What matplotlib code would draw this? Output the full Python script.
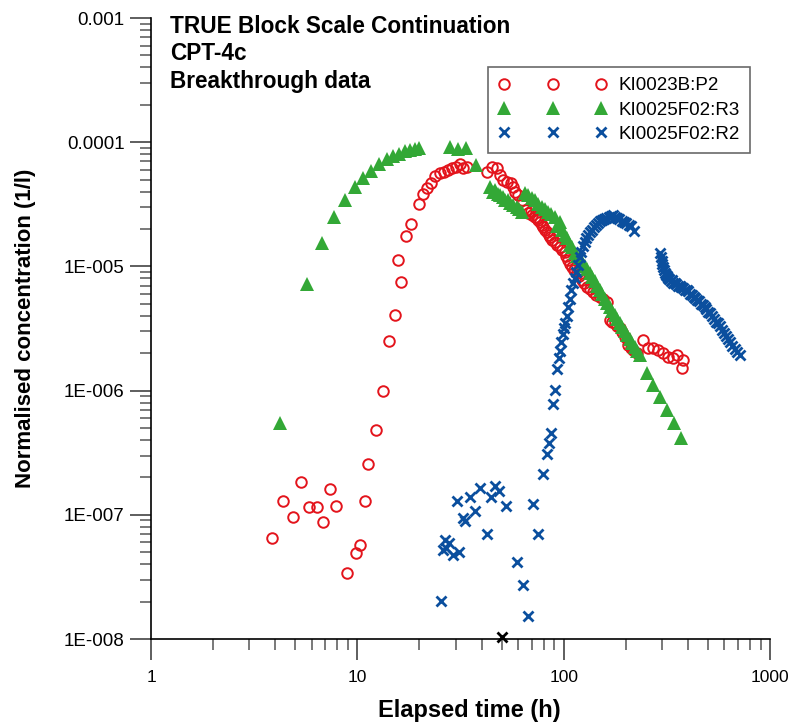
import matplotlib
matplotlib.use("Agg")
import matplotlib.pyplot as plt
from matplotlib.ticker import FixedLocator, FixedFormatter, LogLocator, NullFormatter

plt.rcParams['font.family'] = ['Liberation Sans', 'DejaVu Sans']

# ---- KI0023B:P2 (red circles) ----
p2_time = [3.87, 4.36, 4.86, 5.35, 5.85, 6.39, 6.84, 7.34, 7.88, 8.87, 9.85, 10.3, 10.9, 11.3,
           12.3, 13.3, 14.3, 15.3, 16.3, 15.8, 17.3, 18.2, 19.8, 20.7, 21.7, 22.7, 23.8, 25.1,
           26.3, 27.6, 28.8, 30.0, 31.4, 32.4, 33.9,
           42.3, 44.7, 47.3, 49.1, 50.9, 53.2, 55.5, 56.9, 58.4, 60.2, 62.5, 65.6, 67.3, 69.1,
           70.5, 72.5, 73.9, 75.5, 76.7, 78.2, 79.0, 81.0, 82.7, 84.5, 85.8, 88.0, 90.6, 93.0,
           95.9, 98.5, 101.4, 103.0, 105.2, 107.0, 109.2, 112.0, 115.5, 118.5, 122.1, 125.5,
           129.1, 134.0, 139.0, 144.0, 149.7, 155.0, 161.4,
           167.4, 172.0, 177.1, 182.0, 187.1, 192.0, 198.0, 205.4, 211.0, 217.3, 225.6,
           242.7, 256.6, 271.4, 287.0, 303.5, 320.9, 339.4, 352.4, 372.5, 379.5]
p2_conc = [6.47e-8, 1.30e-7, 9.55e-8, 1.84e-7, 1.15e-7, 1.15e-7, 8.8e-8, 1.61e-7, 1.18e-7, 3.40e-8,
           4.9e-8, 5.68e-8, 1.30e-7, 2.58e-7,
           4.84e-7, 9.98e-7, 2.52e-6, 4.08e-6, 7.48e-6, 1.13e-5, 1.76e-5, 2.21e-5, 3.20e-5, 3.83e-5,
           4.26e-5, 4.72e-5, 5.35e-5, 5.62e-5, 5.8e-5, 5.97e-5, 6.2e-5, 6.3e-5, 6.68e-5, 6.2e-5, 6.3e-5,
           5.79e-5, 6.28e-5, 6.17e-5, 5.45e-5, 4.97e-5, 4.75e-5, 4.72e-5, 4.39e-5, 3.99e-5, 3.76e-5,
           3.43e-5, 2.85e-5, 2.68e-5, 2.78e-5, 2.6e-5, 2.5e-5, 2.44e-5, 2.36e-5, 2.29e-5, 2.16e-5,
           2.09e-5, 1.98e-5, 1.88e-5, 1.80e-5, 1.73e-5, 1.62e-5, 1.58e-5, 1.50e-5, 1.44e-5, 1.36e-5,
           1.31e-5, 1.22e-5, 1.13e-5, 1.05e-5, 9.95e-6, 9.4e-6, 8.8e-6, 8.3e-6, 7.78e-6, 7.3e-6,
           6.87e-6, 6.6e-6, 6.26e-6, 5.9e-6, 5.70e-6, 5.45e-6, 5.20e-6,
           3.70e-6, 3.6e-6, 3.48e-6, 3.3e-6, 3.17e-6, 2.95e-6, 2.72e-6, 2.33e-6, 2.2e-6, 2.12e-6, 2.00e-6,
           2.55e-6, 2.19e-6, 2.19e-6, 2.12e-6, 2.00e-6, 1.88e-6, 1.82e-6, 1.94e-6, 1.51e-6, 1.76e-6]

# ---- KI0025F02:R3 (green triangles) ----
r3_time = [4.22, 5.72, 6.71, 7.73, 8.71, 9.70, 10.7, 11.7, 12.8, 13.9, 14.9, 16.0, 17.0, 18.0,
           19.0, 20.0, 28.1, 30.8, 33.6, 37.8,
           43.9, 45.5, 46.4, 48.2, 49.1, 50.9, 51.9, 53.8, 54.9, 57.0, 59.1, 61.0, 62.5,
           65.0, 67.3, 70.0, 72.5, 75.0, 78.2, 81.0, 84.1, 87.0, 90.6, 92.4, 95.9, 98.5,
           101.4, 104.0, 107.2, 110.0, 113.3, 116.5, 119.8, 123.0, 126.5, 130.0, 133.9, 137.5,
           141.6, 145.5, 149.7, 154.0, 158.5, 163.0, 167.4, 172.0, 177.1, 182.0, 187.1, 192.5,
           198.0, 203.5, 209.3, 215.0, 221.3, 227.5, 233.9,
           252.2, 270.4, 292.5, 316.2, 341.8, 369.6]
r3_conc = [5.45e-7, 7.22e-6, 1.53e-5, 2.48e-5, 3.42e-5, 4.34e-5, 5.12e-5, 5.9e-5, 6.64e-5, 7.28e-5,
           7.74e-5, 8.1e-5, 8.45e-5, 8.7e-5, 8.87e-5, 9.0e-5, 9.2e-5, 8.77e-5, 8.9e-5, 6.55e-5,
           4.38e-5, 3.99e-5, 4.12e-5, 3.83e-5, 3.76e-5, 3.64e-5, 3.43e-5, 3.43e-5, 3.22e-5, 3.12e-5,
           3.03e-5, 2.90e-5, 2.76e-5,
           3.9e-5, 3.76e-5, 3.55e-5, 3.43e-5, 3.2e-5, 3.03e-5, 2.9e-5, 2.76e-5, 2.62e-5, 2.51e-5,
           2.1e-5, 2.29e-5, 1.95e-5,
           1.79e-5, 1.7e-5, 1.49e-5, 1.42e-5, 1.28e-5, 1.22e-5, 1.17e-5, 1.08e-5, 1.01e-5, 9.5e-6,
           8.85e-6, 8.2e-6, 7.63e-6, 7.0e-6, 6.46e-6, 5.95e-6, 5.47e-6, 5.1e-6, 4.71e-6, 4.4e-6,
           4.06e-6, 3.75e-6, 3.50e-6, 3.25e-6, 3.02e-6, 2.8e-6, 2.60e-6, 2.42e-6, 2.24e-6, 2.08e-6,
           1.94e-6,
           1.38e-6, 1.11e-6, 8.88e-7, 6.98e-7, 5.48e-7, 4.15e-7]

# ---- KI0025F02:R2 (blue crosses) ----
r2_time = [25.3, 26.6, 27.9, 26.1, 27.0, 29.2, 31.2, 30.3, 32.4, 33.2, 35.1, 37.2, 39.3, 42.3,
           44.2, 46.4, 48.7, 52.3, 59.1, 63.2, 66.9, 71.2, 75.3, 79.6, 83.2, 85.1, 86.7, 89.0,
           91.0, 93.0, 94.5, 96.0, 97.5, 99.0, 100.5, 102.0, 103.5, 105.0, 107.0, 109.0, 111.0,
           113.0, 115.0, 117.0, 120.0, 122.0, 124.5, 127.0, 129.0, 131.5, 134.0, 137.0, 140.0,
           143.0, 146.0, 150.0, 153.0, 157.0, 161.0, 165.0, 169.0, 173.0, 177.0, 181.0, 186.0,
           191.0, 196.0, 201.0, 207.0, 213.0, 218.0,
           292, 295, 298, 300, 303, 306, 309, 312, 316, 320, 325, 330, 335, 340, 346, 352, 358,
           365, 372, 379, 386, 394, 402, 410, 418, 426, 435, 444, 453, 462, 472, 482, 492, 502,
           513, 524, 535, 547, 559, 571, 584, 598, 612, 627, 642, 658, 675, 692, 712]
r2_conc = [2.03e-8, 6.27e-8, 5.89e-8, 5.21e-8, 5.4e-8, 4.75e-8, 5.05e-8, 1.28e-7, 9.48e-8, 8.92e-8,
           1.40e-7, 1.08e-7, 1.63e-7, 6.97e-8, 1.40e-7, 1.71e-7, 1.56e-7, 1.18e-7, 4.17e-8, 2.72e-8,
           1.53e-8, 1.22e-7, 7.0e-8, 2.13e-7, 3.09e-7, 3.77e-7, 4.59e-7, 7.80e-7,
           1.01e-6, 1.5e-6, 1.82e-6, 2.1e-6, 2.45e-6, 2.85e-6, 3.2e-6, 3.5e-6, 4.0e-6, 4.7e-6,
           5.5e-6, 6.4e-6, 7.3e-6, 8.0e-6, 9.0e-6, 1.02e-5, 1.18e-5, 1.3e-5, 1.45e-5, 1.58e-5,
           1.68e-5, 1.8e-5, 1.9e-5, 1.98e-5, 2.08e-5, 2.15e-5, 2.22e-5, 2.3e-5, 2.35e-5, 2.4e-5,
           2.45e-5, 2.5e-5, 2.55e-5, 2.6e-5, 2.5e-5, 2.45e-5, 2.4e-5, 2.3e-5, 2.28e-5, 2.22e-5,
           2.15e-5, 2.1e-5, 1.92e-5,
           1.28e-5, 1.18e-5, 1.10e-5, 1.05e-5, 9.9e-6, 9.3e-6, 8.9e-6, 8.6e-6, 8.3e-6, 8.0e-6,
           7.9e-6, 7.6e-6, 7.7e-6, 7.4e-6, 7.3e-6, 7.2e-6, 7.0e-6, 7.0e-6, 6.8e-6, 6.7e-6, 6.5e-6,
           6.4e-6, 6.3e-6, 6.0e-6, 5.9e-6, 5.7e-6, 5.6e-6, 5.4e-6, 5.3e-6, 5.0e-6, 4.9e-6, 4.7e-6,
           4.5e-6, 4.3e-6, 4.2e-6, 4.0e-6, 3.8e-6, 3.6e-6, 3.5e-6, 3.3e-6, 3.1e-6, 2.9e-6, 2.75e-6,
           2.6e-6, 2.45e-6, 2.3e-6, 2.15e-6, 2.05e-6, 1.92e-6]

# single point sitting on the lower axis
axis_pt_time = [50.2]
axis_pt_conc = [1.03e-8]

x_ticks = [1, 10, 100, 1000]
x_labels = ["1", "10", "100", "1000"]
y_ticks = [1e-8, 1e-7, 1e-6, 1e-5, 1e-4, 1e-3]
y_labels = ["1E-008", "1E-007", "1E-006", "1E-005", "0.0001", "0.001"]

title_lines = ["TRUE Block Scale Continuation", "CPT-4c", "Breakthrough data"]

RED = "#E3141C"
GREEN = "#33A836"
BLUE = "#0B4F9E"

fig = plt.figure(figsize=(7.93, 7.24), dpi=100)
ax = fig.add_axes([151 / 793, 1 - 639 / 724, (770 - 151) / 793, (639 - 18) / 724])

ax.plot(p2_time, p2_conc, linestyle="none", marker="o", ms=7.6, mfc="none", mec=RED, mew=1.4,
        label="KI0023B:P2", clip_on=False)
ax.plot(r3_time, r3_conc, linestyle="none", marker="^", ms=9.5, color=GREEN, mec=GREEN, mew=0,
        label="KI0025F02:R3", clip_on=False)
ax.plot(r2_time, r2_conc, linestyle="none", marker="x", ms=7.5, color=BLUE, mew=2.0,
        label="KI0025F02:R2", clip_on=False)
ax.plot(axis_pt_time, axis_pt_conc, linestyle="none", marker="x", ms=7.5, color="black", mew=2.0,
        clip_on=False, zorder=5)

ax.set_xscale("log")
ax.set_yscale("log")
ax.set_xlim(1, 1000)
ax.set_ylim(1e-8, 1e-3)

for side in ("top", "right"):
    ax.spines[side].set_visible(False)
for side in ("left", "bottom"):
    ax.spines[side].set_linewidth(1.2)
    ax.spines[side].set_color("black")

ax.xaxis.set_major_locator(FixedLocator(x_ticks))
ax.xaxis.set_major_formatter(FixedFormatter(x_labels))
ax.yaxis.set_major_locator(FixedLocator(y_ticks))
ax.yaxis.set_major_formatter(FixedFormatter(y_labels))
for axis in (ax.xaxis, ax.yaxis):
    axis.set_minor_locator(LogLocator(base=10, subs=range(2, 10)))
    axis.set_minor_formatter(NullFormatter())

ax.tick_params(which="major", direction="out", length=15, width=1.1, color="#333333", pad=4)
ax.tick_params(which="minor", direction="out", length=8, width=1.1, color="#555555")
ax.tick_params(axis="x", which="major", pad=7, labelsize=12.5)
ax.tick_params(axis="y", which="major", labelsize=13.5)

ax.set_xlabel("Elapsed time (h)", fontsize=17, fontweight="bold")
ax.xaxis.set_label_coords(0.514, -0.096)
ax.set_ylabel("Normalised concentration (1/l)", fontsize=16, fontweight="bold", labelpad=20)

for i, line in enumerate(title_lines):
    fig.text(170 / 793, 1 - (33 + 27.5 * i) / 724, line, fontsize=16.3, fontweight="bold",
             ha="left", va="baseline")

leg = ax.legend(loc="upper left", bbox_to_anchor=(488 / 793, 1 - 67 / 724),
                bbox_transform=fig.transFigure, numpoints=3, handlelength=5.8,
                handletextpad=0.6, borderpad=0.55, labelspacing=0.38, fontsize=13.5,
                frameon=True, fancybox=False, borderaxespad=0)
leg.get_frame().set_edgecolor("#444444")
leg.get_frame().set_linewidth(1.2)

fig.savefig("out.png", dpi=100)
